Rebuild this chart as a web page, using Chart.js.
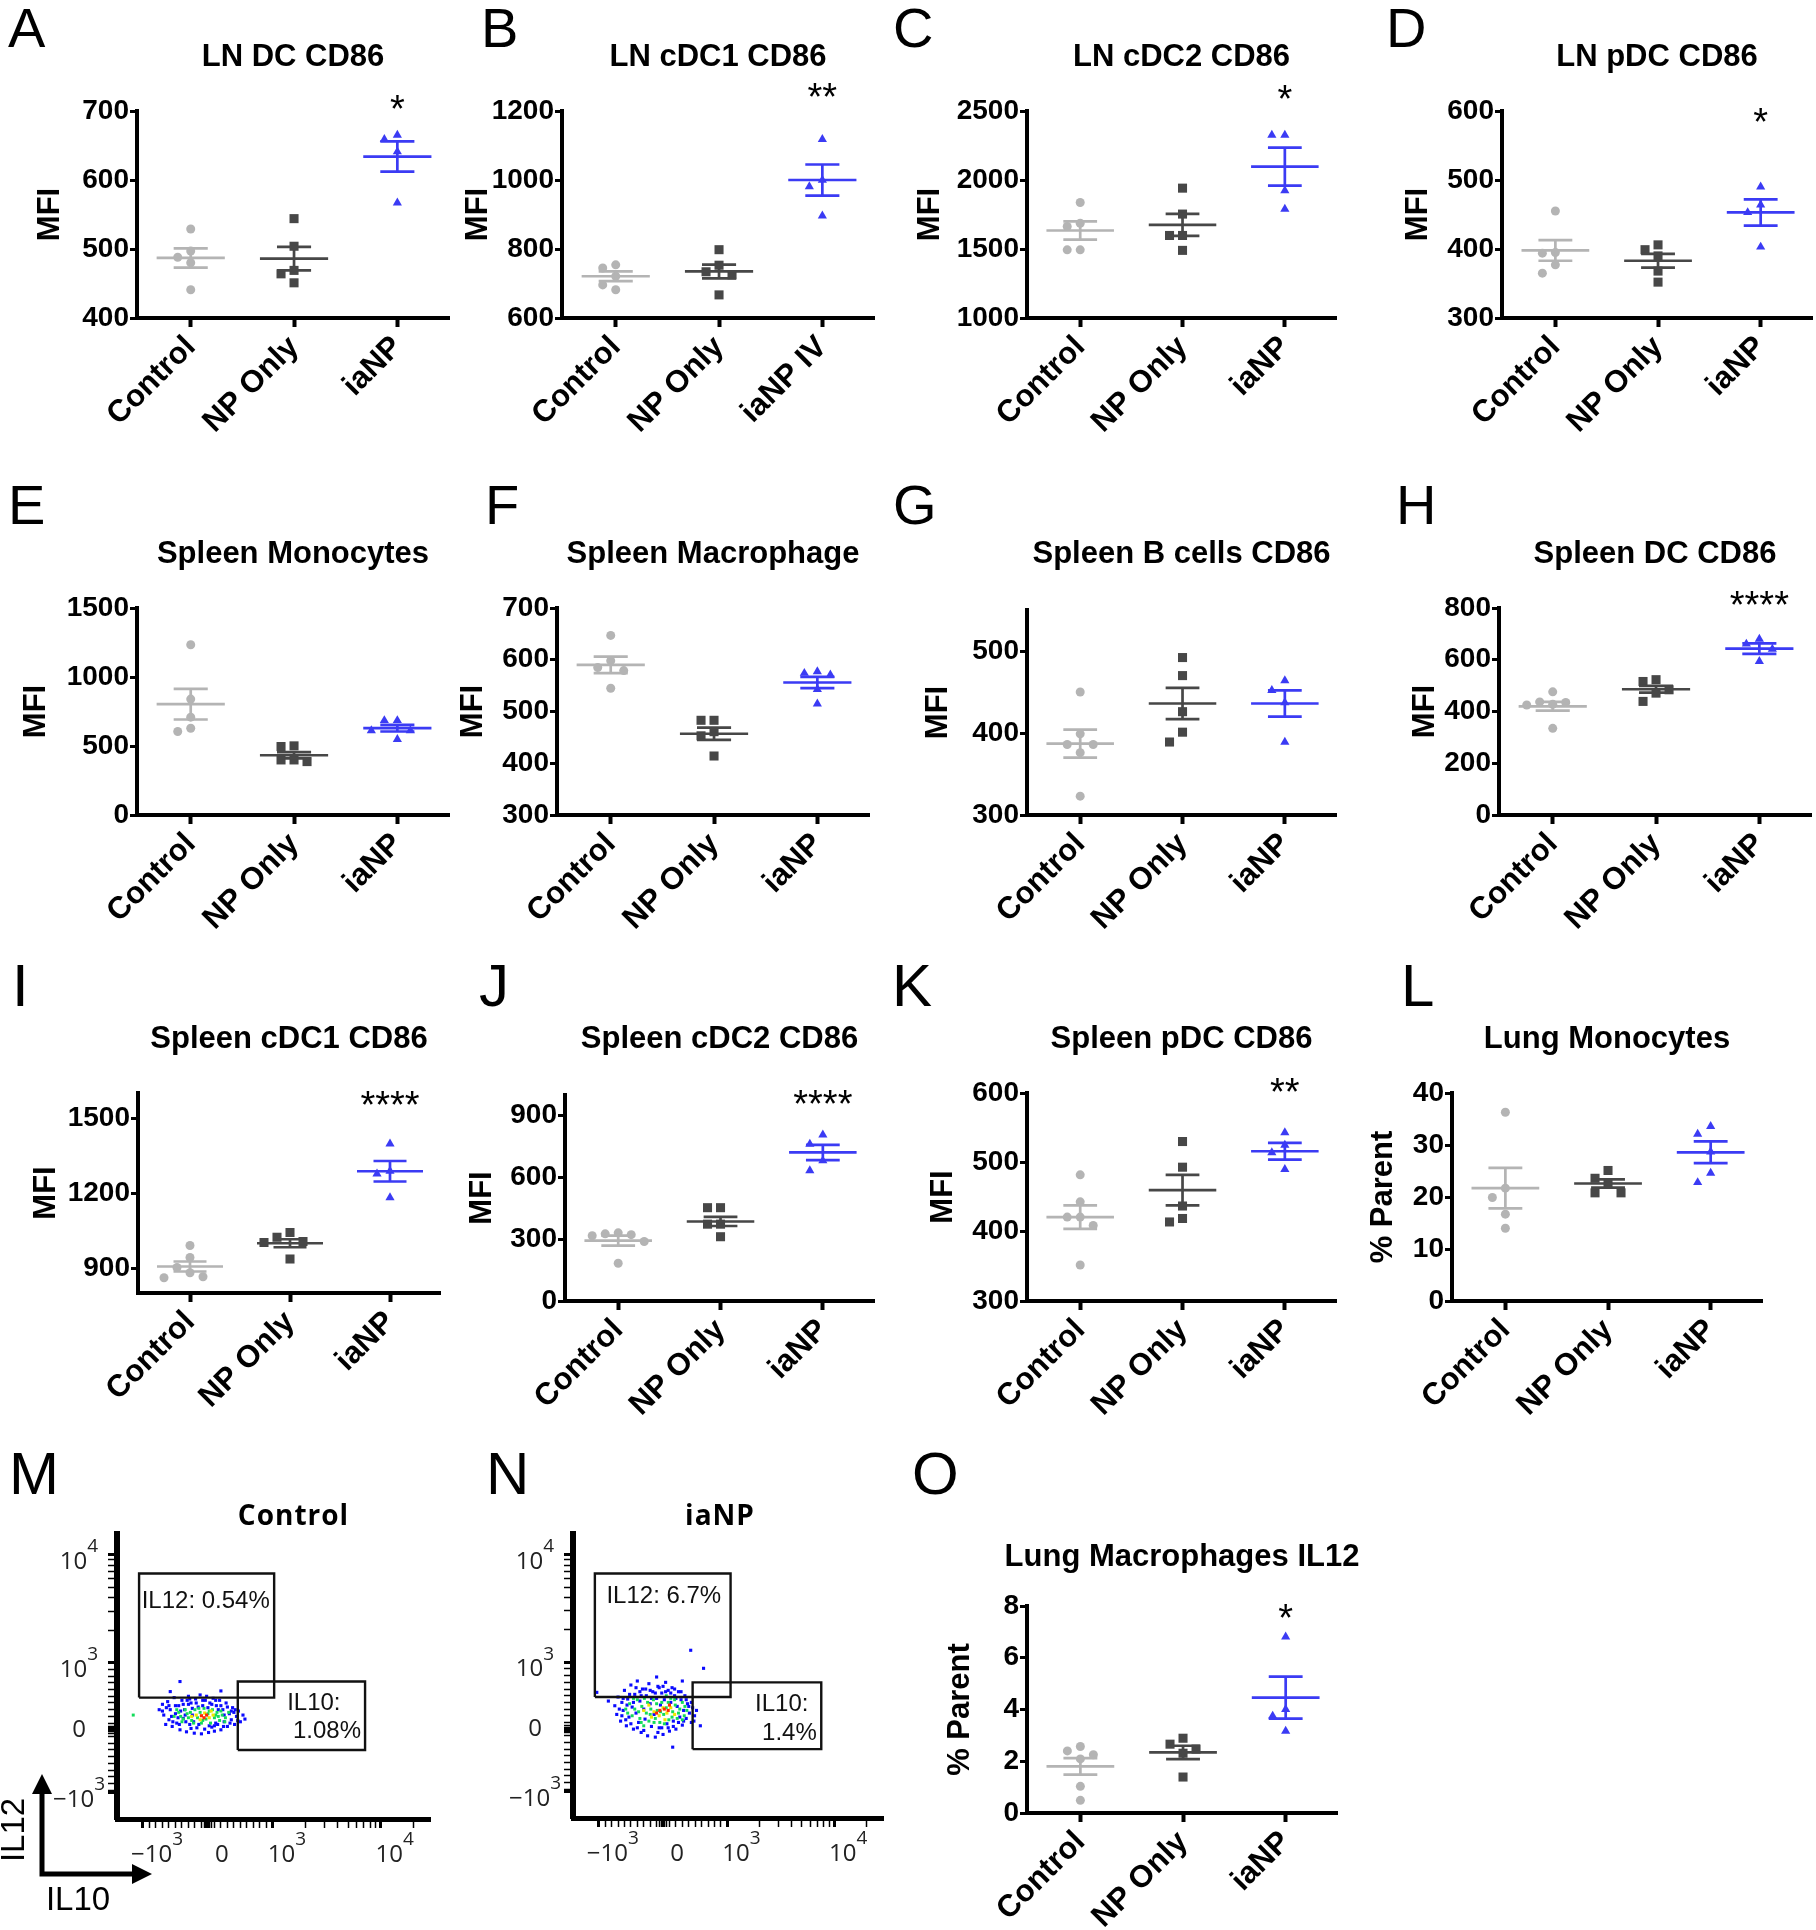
<!DOCTYPE html>
<html>
<head>
<meta charset="utf-8">
<script src="https://cdn.jsdelivr.net/npm/chart.js@4.4.1/dist/chart.umd.min.js"></script>
<style>
  html, body { margin: 0; padding: 0; background: #fff; }
  #page { position: relative; width: 1816px; height: 1930px; overflow: hidden; background: #fff; }
  #page canvas { position: absolute; }
  .letter { position: absolute; font-family: 'Liberation Sans', Arial, sans-serif; line-height: 1; color: #000; }
</style>
</head>
<body>
<div id="page"></div>
<script>
// ---- data ----
const groups = ['Control', 'NP Only', 'iaNP'];
const groupsIV = ['Control', 'NP Only', 'iaNP IV'];

// A  LN DC CD86
const A_control = [529, 497, 488, 480, 441];
const A_npOnly = [544, 504, 469, 464, 451];
const A_iaNP = [665, 659, 641, 567];
const A_mean = [487, 486, 634];
const A_sem = [14, 17, 22];
const A_ticks = [400, 500, 600, 700];

// B  LN cDC1 CD86
const B_control = [754, 745, 721, 696, 682];
const B_npOnly = [798, 753, 734, 725, 667];
const B_iaNP = [1118, 1000, 981, 896];
const B_mean = [721, 735, 1000];
const B_sem = [14, 20, 45];
const B_ticks = [600, 800, 1000, 1200];

// C  LN cDC2 CD86
const C_control = [1837, 1687, 1663, 1494, 1494];
const C_npOnly = [1941, 1753, 1598, 1598, 1490];
const C_iaNP = [2326, 2326, 1924, 1789];
const C_mean = [1634, 1675, 2097];
const C_sem = [66, 80, 138];
const C_ticks = [1000, 1500, 2000, 2500];

// D  LN pDC CD86
const D_control = [455, 395, 394, 377, 365];
const D_npOnly = [406, 399, 390, 368, 352];
const D_iaNP = [490, 464, 453, 403];
const D_mean = [398, 383, 453];
const D_sem = [15, 10, 19];
const D_ticks = [300, 400, 500, 600];

// E  Spleen Monocytes
const E_control = [1234, 840, 709, 629, 605];
const E_npOnly = [501, 496, 399, 399, 387];
const E_iaNP = [685, 685, 612, 612, 549];
const E_mean = [803, 433, 629];
const E_sem = [111, 22, 24];
const E_ticks = [0, 500, 1000, 1500];

// F  Spleen Macrophage
const F_control = [647, 598, 585, 579, 545];
const F_npOnly = [483, 483, 461, 453, 414];
const F_iaNP = [577, 574, 571, 543, 515];
const F_mean = [590, 457, 556];
const F_sem = [16, 12, 11];
const F_ticks = [300, 400, 500, 600, 700];

// G  Spleen B cells CD86
const G_control = [450, 399, 386, 386, 376, 323];
const G_npOnly = [492, 470, 426, 401, 389];
const G_iaNP = [464, 452, 437, 389];
const G_mean = [387, 436, 436];
const G_sem = [17, 19, 16];
const G_ticks = [300, 400, 500];

// H  Spleen DC CD86
const H_control = [476, 437, 435, 428, 425, 335];
const H_npOnly = [523, 516, 484, 471, 439];
const H_iaNP = [680, 661, 641, 594];
const H_mean = [420, 486, 643];
const H_sem = [17, 13, 20];
const H_ticks = [0, 200, 400, 600, 800];

// I  Spleen cDC1 CD86
const I_control = [990, 942, 902, 881, 865, 861];
const I_npOnly = [1042, 1023, 1006, 1002, 936];
const I_iaNP = [1397, 1288, 1277, 1182];
const I_mean = [906, 999, 1287];
const I_sem = [20, 16, 41];
const I_ticks = [900, 1200, 1500];

// J  Spleen cDC2 CD86
const J_control = [331, 326, 322, 317, 289, 183];
const J_npOnly = [453, 453, 373, 373, 312];
const J_iaNP = [807, 762, 681, 633];
const J_mean = [293, 386, 721];
const J_sem = [24, 22, 37];
const J_ticks = [0, 300, 600, 900];

// K  Spleen pDC CD86
const K_control = [482, 443, 421, 421, 409, 352];
const K_npOnly = [530, 493, 437, 419, 414];
const K_iaNP = [543, 525, 514, 490];
const K_mean = [421, 460, 516];
const K_sem = [17, 22, 12];
const K_ticks = [300, 400, 500, 600];

// L  Lung Monocytes (% parent)
const L_control = [36.3, 21.7, 19.9, 16.7, 14.0];
const L_npOnly = [25.1, 23.6, 22.6, 20.8, 20.8];
const L_iaNP = [33.6, 32.1, 28.7, 24.6, 22.8];
const L_mean = [21.7, 22.6, 28.6];
const L_sem = [3.9, 0.8, 2.1];
const L_ticks = [0, 10, 20, 30, 40];

// O  Lung Macrophages IL12 (% parent)
const O_control = [2.57, 2.40, 2.25, 2.09, 1.03, 0.49];
const O_npOnly = [2.89, 2.66, 2.47, 2.31, 1.39];
const O_iaNP = [6.81, 4.01, 3.75, 3.17];
const O_mean = [1.80, 2.34, 4.46];
const O_sem = [0.32, 0.26, 0.81];
const O_ticks = [0, 2, 4, 6, 8];

// M / N flow plots, biexponential display units (0 = 0, 1 = 10^3)
const flowTickLabels = [['\u221210', '3'], ['0', ''], ['10', '3'], ['10', '4']];
const flowTicksX = [-1, 0, 1, 2.66];
const flowTicksY = [-0.94, 0, 1, 2.61];

const M_gateIL12 = [-1.06, 1.02, 0.48, 2.33];
const M_gateIL10 = [0.46, 2.42, -0.30, 0.72];
const N_gateIL12 = [-1.06, 1.05, 0.48, 2.33];
const N_gateIL10 = [0.46, 2.46, -0.30, 0.70];

const M_blue = [[-0.75,0.30],[-0.70,0.38],[-0.68,0.22],[-0.62,0.42],[-0.60,0.15],[-0.58,0.30],[-0.55,0.05],[-0.52,0.48],
  [-0.50,0.24],[-0.48,0.10],[-0.45,0.36],[-0.43,0.00],[-0.40,0.44],[-0.38,0.17],[-0.36,0.30],[-0.33,-0.03],[-0.30,0.50],
  [-0.28,0.08],[-0.26,0.40],[-0.24,0.22],[-0.21,-0.05],[-0.19,0.46],[-0.17,0.03],[-0.15,0.34],[-0.12,0.52],[-0.10,-0.06],
  [-0.08,0.44],[-0.05,0.01],[-0.02,0.50],[0.01,-0.04],[0.03,0.40],[0.06,0.04],[0.08,0.47],[0.10,-0.02],[0.13,0.36],
  [0.15,0.08],[0.18,0.44],[0.20,0.00],[0.23,0.30],[0.25,0.12],[0.28,0.40],[0.30,0.05],[0.33,0.24],[0.36,0.15],[0.38,0.33],
  [0.41,0.08],[0.44,0.20],[0.47,0.28],[0.50,0.12],[0.54,0.22],[0.57,0.16],[-0.43,0.72],[-0.58,0.57],[0.20,0.58],[-0.65,0.08],
  [-0.35,0.22],[0.00,0.33],[0.25,0.22],[-0.22,0.12],[-0.46,0.18],[0.12,0.10],[-0.30,0.38],[0.40,0.26],
  [-0.70,0.28],[-0.64,0.33],[-0.56,0.20],[-0.50,0.36],[-0.44,0.08],[-0.42,0.28],[-0.34,0.12],[-0.32,0.44],[-0.26,0.02],
  [-0.24,0.32],[-0.18,0.40],[-0.14,0.08],[-0.08,0.36],[-0.04,0.44],[0.02,0.06],[0.06,0.38],[0.12,0.44],[0.16,0.30],
  [0.20,0.36],[0.24,0.05],[0.30,0.34],[0.34,0.10],[0.42,0.30],[0.46,0.14],[-0.60,0.36],[-0.54,0.12],[-0.38,0.38],
  [-0.28,0.46],[0.10,0.06],[0.36,0.28]];
const M_green = [[-0.52,0.20],[-0.45,0.26],[-0.40,0.12],[-0.35,0.30],[-0.30,0.18],[-0.27,0.26],[-0.22,0.10],[-0.20,0.30],
  [-0.16,0.18],[-0.12,0.26],[-0.10,0.10],[-0.06,0.32],[-0.03,0.16],[0.00,0.24],[0.04,0.10],[0.07,0.30],[0.10,0.18],
  [0.14,0.26],[0.18,0.14],[0.22,0.22],[0.27,0.18],[0.32,0.26],[-1.15,0.22],
  [-0.48,0.30],[-0.42,0.20],[-0.32,0.24],[-0.25,0.14],[-0.14,0.32],[-0.08,0.14],[0.02,0.28],[0.12,0.22],[0.20,0.28],
  [0.26,0.12],[-0.38,0.16],[0.16,0.20]];
const M_yellow = [[-0.18,0.22],[-0.12,0.15],[-0.05,0.25],[0.02,0.18],[0.08,0.22],[-0.25,0.20],[0.05,0.28]];
const M_red = [[-0.10,0.21],[-0.06,0.18],[-0.02,0.22]];

const N_blue = [[-0.75,0.35],[-0.72,0.22],[-0.70,0.48],[-0.66,0.12],[-0.64,0.40],[-0.62,0.28],[-0.60,0.58],[-0.57,0.05],
  [-0.55,0.45],[-0.53,0.18],[-0.50,0.66],[-0.48,0.33],[-0.46,0.00],[-0.44,0.52],[-0.42,0.24],[-0.40,0.72],[-0.38,0.10],
  [-0.36,0.42],[-0.34,-0.05],[-0.32,0.60],[-0.30,0.30],[-0.28,0.15],[-0.26,0.50],[-0.24,-0.10],[-0.22,0.68],[-0.20,0.38],
  [-0.18,0.04],[-0.16,0.56],[-0.14,0.22],[-0.12,-0.12],[-0.10,0.46],[-0.08,0.64],[-0.06,0.02],[-0.04,0.36],[-0.02,0.54],
  [0.00,-0.08],[0.02,0.44],[0.04,0.70],[0.06,0.08],[0.08,0.58],[0.10,-0.03],[0.12,0.40],[0.14,0.62],[0.16,0.12],[0.18,0.50],
  [0.20,0.00],[0.22,0.34],[0.24,0.56],[0.26,0.18],[0.28,0.44],[0.30,0.06],[0.32,0.28],[0.34,0.50],[0.36,0.16],[0.38,0.38],
  [0.41,0.24],[0.44,0.10],[0.46,0.32],[0.49,0.20],[0.52,0.28],[0.43,1.18],[0.63,0.91],[-1.03,0.55],[0.15,-0.27],[0.58,0.05],
  [-0.85,0.42],[0.30,0.72],[-0.10,0.78],
  [-0.68,0.30],[-0.62,0.46],[-0.58,0.14],[-0.52,0.52],[-0.50,0.08],[-0.46,0.40],[-0.42,0.62],[-0.40,0.02],[-0.34,0.50],
  [-0.30,-0.02],[-0.27,0.60],[-0.20,0.58],[-0.18,0.46],[-0.12,0.54],[-0.06,0.62],[-0.02,0.02],[0.04,0.56],[0.08,0.02],
  [0.12,0.54],[0.16,0.04],[0.20,0.46],[0.24,0.10],[0.28,0.56],[0.32,0.12],[0.36,0.44],[0.40,0.34],[0.44,0.40],[0.48,0.12],
  [-0.64,0.20],[-0.56,0.36],[0.00,0.64],[-0.08,-0.05],[0.18,0.60],[-0.36,0.56]];
const N_green = [[-0.58,0.30],[-0.52,0.38],[-0.48,0.20],[-0.44,0.30],[-0.40,0.44],[-0.36,0.16],[-0.33,0.34],[-0.29,0.46],
  [-0.26,0.24],[-0.22,0.12],[-0.19,0.30],[-0.15,0.44],[-0.12,0.16],[-0.09,0.28],[-0.05,0.10],[-0.02,0.40],[0.01,0.22],
  [0.05,0.32],[0.09,0.14],[0.12,0.46],[0.15,0.26],[0.19,0.36],[0.22,0.16],[0.26,0.30],[0.30,0.40],[0.33,0.20],[0.37,0.28],
  [-0.30,0.05],[0.05,0.50],
  [-0.55,0.24],[-0.46,0.46],[-0.38,0.26],[-0.34,0.10],[-0.24,0.40],[-0.20,0.22],[-0.10,0.38],[-0.04,0.26],[0.08,0.40],
  [0.14,0.18],[0.24,0.24],[0.30,0.14],[0.34,0.34],[0.18,0.44],[-0.14,0.10],[0.02,0.08]];
const N_yellow = [[-0.30,0.28],[-0.22,0.36],[-0.14,0.26],[-0.06,0.20],[0.00,0.32],[0.06,0.24],[0.12,0.32],[0.18,0.22],
  [-0.18,0.18],[0.03,0.14]];
const N_red = [[-0.05,0.28],[0.02,0.30],[0.08,0.28],[0.10,0.36],[-0.10,0.24]];

// ---- styling / layout ----
const FONT = "'Liberation Sans', Arial, sans-serif";
const DOT_COLORS = ['#b4b4b4', '#474747', '#3b3bf4'];
const DOT_STYLES = ['circle', 'rect', 'triangle'];
const DOT_RADII = [4.5, 6.4, 5.3];
const X_MIN = -0.52, X_MAX = 2.5;
const MEAN_HALF = 0.33, CAP_HALF = 0.165;
const SWARM_STEP = 13, SWARM_GAP = 11;
const T_SPACE = 100, X_SPACE = 135, R_SPACE = 45;

const page = document.getElementById('page');

function makeCanvas(left, top, w, h) {
  const c = document.createElement('canvas');
  c.width = w; c.height = h;
  c.style.left = left + 'px'; c.style.top = top + 'px';
  c.style.width = w + 'px'; c.style.height = h + 'px';
  page.appendChild(c);
  return c;
}

function addLetter(ch, left, top, size) {
  const d = document.createElement('div');
  d.className = 'letter';
  d.textContent = ch;
  d.style.left = left + 'px'; d.style.top = top + 'px'; d.style.fontSize = size + 'px';
  page.appendChild(d);
}

// spread points sideways where they would overlap (like a beeswarm)
function swarm(vals, pxPerUnit, catPx) {
  const placed = [];
  return vals.map(v => {
    const py = v * pxPerUnit;
    for (let k = 0; k < 15; k++) {
      const px = (k % 2 ? -1 : 1) * Math.ceil(k / 2) * SWARM_STEP;
      if (placed.every(q => Math.hypot(q[0] - px, q[1] - py) >= SWARM_GAP)) {
        placed.push([px, py]);
        return px / catPx;
      }
    }
    return 0;
  });
}

function meanSemData(g, m, s) {
  const gap = () => ({x: g, y: null});
  return [
    {x: g - MEAN_HALF, y: m}, {x: g + MEAN_HALF, y: m}, gap(),
    {x: g, y: m - s}, {x: g, y: m + s}, gap(),
    {x: g - CAP_HALF, y: m + s}, {x: g + CAP_HALF, y: m + s}, gap(),
    {x: g - CAP_HALF, y: m - s}, {x: g + CAP_HALF, y: m - s}
  ];
}

const decoPlugin = {
  id: 'deco',
  afterDraw(chart, args, o) {
    const {ctx, chartArea: ca, scales} = chart;
    ctx.save();
    ctx.fillStyle = '#000';
    ctx.textAlign = 'center';
    if (o.title) {
      ctx.font = 'bold 31px ' + FONT;
      ctx.textBaseline = 'middle';
      ctx.fillText(o.title, (ca.left + ca.right) / 2, ca.top - o.titleDy);
    }
    if (o.star) {
      ctx.font = '38px ' + FONT;
      ctx.textBaseline = 'alphabetic';
      ctx.fillText(o.star, scales.x.getPixelForValue(2), scales.y.getPixelForValue(o.starAt) + 22);
    }
    ctx.restore();
  }
};

function dotPanel(p) {
  const [ax, xEnd, yTop, yBot] = p.box;
  const plotW = xEnd - ax, plotH = yBot - yTop;
  const wy = p.titleGap + 18;
  const canvas = makeCanvas(ax - wy, yTop - T_SPACE, wy + plotW + R_SPACE, T_SPACE + plotH + X_SPACE);
  const [ymin, ymax] = p.range;
  const pxPerUnit = plotH / (ymax - ymin);
  const catPx = plotW / (X_MAX - X_MIN);

  const datasets = [];
  p.vals.forEach((vals, g) => {
    datasets.push({
      data: meanSemData(g, p.mean[g], p.sem[g]),
      showLine: true, spanGaps: false, pointRadius: 0,
      borderColor: DOT_COLORS[g], borderWidth: 2.7
    });
  });
  p.vals.forEach((vals, g) => {
    const offs = swarm(vals, pxPerUnit, catPx);
    datasets.push({
      data: vals.map((v, i) => ({x: g + offs[i], y: v})),
      pointStyle: DOT_STYLES[g], pointRadius: DOT_RADII[g],
      backgroundColor: DOT_COLORS[g], borderWidth: 0
    });
  });

  new Chart(canvas, {
    type: 'scatter',
    data: {datasets},
    plugins: [decoPlugin],
    options: {
      responsive: false, animation: false, events: [],
      layout: {padding: {top: T_SPACE, right: R_SPACE, left: 0, bottom: 0}},
      plugins: {
        legend: {display: false}, tooltip: {enabled: false},
        deco: {title: p.title, titleDy: p.titleDy || 54, star: p.star, starAt: p.starAt}
      },
      scales: {
        x: {
          type: 'linear', min: X_MIN, max: X_MAX,
          afterBuildTicks: s => { s.ticks = p.cats.map((c, i) => ({value: i})); },
          afterFit: s => { s.height = X_SPACE; s.paddingLeft = 0; s.paddingRight = 0; },
          ticks: {
            callback: v => p.cats[v], minRotation: 45, maxRotation: 45, autoSkip: false, padding: 2,
            color: '#000', font: {family: FONT, size: 31, weight: 'bold'}
          },
          grid: {drawOnChartArea: false, drawTicks: true, tickLength: 9, tickWidth: 4, tickColor: '#000'},
          border: {display: true, color: '#000', width: 4}
        },
        y: {
          type: 'linear', min: ymin, max: ymax,
          afterBuildTicks: s => { s.ticks = p.ticks.map(v => ({value: v})); },
          afterFit: s => { s.width = wy; s.paddingTop = 0; s.paddingBottom = 0; },
          ticks: {callback: v => String(v), padding: 1, color: '#000', font: {family: FONT, size: 28, weight: 'bold'}},
          grid: {drawOnChartArea: false, drawTicks: true, tickLength: 7, tickWidth: 3, tickColor: '#000'},
          border: {display: true, color: '#000', width: 4},
          title: {display: true, text: p.yTitle || 'MFI', color: '#000', padding: 0,
                  font: {family: FONT, size: 31, weight: 'bold'}}
        }
      }
    }
  });
}

const panels = [
  {title: 'LN DC CD86', cats: groups, vals: [A_control, A_npOnly, A_iaNP], mean: A_mean, sem: A_sem, ticks: A_ticks,
   range: [400, 700], star: '*', starAt: 716, box: [137, 449, 111, 318], titleGap: 87},
  {title: 'LN cDC1 CD86', cats: groupsIV, vals: [B_control, B_npOnly, B_iaNP], mean: B_mean, sem: B_sem, ticks: B_ticks,
   range: [600, 1200], star: '**', starAt: 1268, box: [562, 874, 111, 318], titleGap: 84},
  {title: 'LN cDC2 CD86', cats: groups, vals: [C_control, C_npOnly, C_iaNP], mean: C_mean, sem: C_sem, ticks: C_ticks,
   range: [1000, 2500], star: '*', starAt: 2652, box: [1027, 1336, 111, 318], titleGap: 97},
  {title: 'LN pDC CD86', cats: groups, vals: [D_control, D_npOnly, D_iaNP], mean: D_mean, sem: D_sem, ticks: D_ticks,
   range: [300, 600], star: '*', starAt: 597, box: [1502, 1812, 111, 318], titleGap: 84},
  {title: 'Spleen Monocytes', cats: groups, vals: [E_control, E_npOnly, E_iaNP], mean: E_mean, sem: E_sem, ticks: E_ticks,
   range: [0, 1500], box: [137, 449, 608, 815], titleGap: 101},
  {title: 'Spleen Macrophage', cats: groups, vals: [F_control, F_npOnly, F_iaNP], mean: F_mean, sem: F_sem, ticks: F_ticks,
   range: [300, 700], box: [557, 869, 608, 815], titleGap: 84},
  {title: 'Spleen B cells CD86', cats: groups, vals: [G_control, G_npOnly, G_iaNP], mean: G_mean, sem: G_sem, ticks: G_ticks,
   range: [300, 550], box: [1027, 1336, 610, 815], titleGap: 89, titleDy: 56},
  {title: 'Spleen DC CD86', cats: groups, vals: [H_control, H_npOnly, H_iaNP], mean: H_mean, sem: H_sem, ticks: H_ticks,
   range: [0, 800], star: '****', starAt: 848, box: [1499, 1811, 608, 815], titleGap: 74},
  {title: 'Spleen cDC1 CD86', cats: groups, vals: [I_control, I_npOnly, I_iaNP], mean: I_mean, sem: I_sem, ticks: I_ticks,
   range: [800, 1600], star: '****', starAt: 1589, box: [138, 440, 1093, 1293], titleGap: 92},
  {title: 'Spleen cDC2 CD86', cats: groups, vals: [J_control, J_npOnly, J_iaNP], mean: J_mean, sem: J_sem, ticks: J_ticks,
   range: [0, 1000], star: '****', starAt: 1000, box: [565, 874, 1095, 1301], titleGap: 83, titleDy: 56},
  {title: 'Spleen pDC CD86', cats: groups, vals: [K_control, K_npOnly, K_iaNP], mean: K_mean, sem: K_sem, ticks: K_ticks,
   range: [300, 600], star: '**', starAt: 614, box: [1027, 1336, 1093, 1301], titleGap: 84},
  {title: 'Lung Monocytes', cats: groups, vals: [L_control, L_npOnly, L_iaNP], mean: L_mean, sem: L_sem, ticks: L_ticks,
   range: [0, 40], box: [1452, 1762, 1093, 1301], titleGap: 69, yTitle: '% Parent'},
  {title: 'Lung Macrophages IL12', cats: groups, vals: [O_control, O_npOnly, O_iaNP], mean: O_mean, sem: O_sem, ticks: O_ticks,
   range: [0, 8], star: '*', starAt: 7.9, box: [1027, 1337, 1606, 1813], titleGap: 67, titleDy: 49, yTitle: '% Parent'}
];
panels.forEach(dotPanel);

// ---- flow cytometry panels ----
const FLOW_X = [-1.4, 3.42], FLOW_Y = [-1.33, 2.92];
const FLOW_DEC_X = 1.66, FLOW_DEC_Y = 1.61;
const FLOW_FONT = "'Open Sans', 'Liberation Sans', sans-serif";

function flowTicks(major, decade, top) {
  const minor = [];
  for (let k = -9; k <= 9; k++) if (k) minor.push(k / 10);
  [-0.05, -0.03, 0.03, 0.05].forEach(v => minor.push(v));
  for (let k = 2; k <= 9; k++) {
    minor.push(1 + decade * Math.log10(k));
    minor.push(1 + decade + decade * Math.log10(k));
  }
  return major.map(v => ({value: v, big: true}))
    .concat(minor.filter(v => v < top).map(v => ({value: v})))
    .sort((a, b) => a.value - b.value);
}

function gateRect(g) {
  const [x0, x1, y0, y1] = g;
  return [{x: x0, y: y0}, {x: x1, y: y0}, {x: x1, y: y1}, {x: x0, y: y1}, {x: x0, y: y0}];
}

const flowPlugin = {
  id: 'flow',
  afterDraw(chart, args, o) {
    const {ctx, chartArea: ca, scales: {x, y}} = chart;
    ctx.save();
    ctx.fillStyle = '#222';
    ctx.textAlign = 'left';
    ctx.textBaseline = 'middle';
    const drawPow = (lab, cx, cy, vertical) => {
      const [base, exp] = lab;
      ctx.font = '24px ' + FLOW_FONT;
      const bw = ctx.measureText(base).width;
      ctx.font = '19px ' + FLOW_FONT;
      const ew = exp ? ctx.measureText(exp).width : 0;
      const left = cx - (bw + ew) / 2;
      const by = vertical ? (exp ? cy + 7 : cy) : cy;
      ctx.font = '24px ' + FLOW_FONT;
      ctx.fillText(base, left, by);
      if (exp) {
        ctx.font = '19px ' + FLOW_FONT;
        ctx.fillText(exp, left + bw, by - 15);
      }
    };
    flowTicksY.forEach((v, i) => drawPow(flowTickLabels[i], ca.left - 38, y.getPixelForValue(v), true));
    flowTicksX.forEach((v, i) => drawPow(flowTickLabels[i], x.getPixelForValue(v) + 14, ca.bottom + 36, false));

    ctx.fillStyle = '#111';
    ctx.font = '24px ' + FONT;
    o.gateText.forEach(t => ctx.fillText(t[0], x.getPixelForValue(t[1]), y.getPixelForValue(t[2])));

    ctx.fillStyle = '#000';
    ctx.textAlign = 'center';
    ctx.font = 'bold 28px ' + FLOW_FONT;
    ctx.letterSpacing = '1px';
    ctx.fillText(o.title, (ca.left + ca.right) / 2 + o.titleDx, ca.top - 17);
    ctx.letterSpacing = '0px';

    if (o.arrows) {
      const ox = ca.left - 75, oy = ca.bottom + 55;
      ctx.strokeStyle = '#000';
      ctx.lineWidth = 5;
      ctx.beginPath();
      ctx.moveTo(ox, oy - 84); ctx.lineTo(ox, oy); ctx.lineTo(ox + 94, oy);
      ctx.stroke();
      ctx.beginPath();
      ctx.moveTo(ox, oy - 100); ctx.lineTo(ox - 10, oy - 80); ctx.lineTo(ox + 10, oy - 80); ctx.closePath();
      ctx.moveTo(ox + 110, oy); ctx.lineTo(ox + 90, oy - 10); ctx.lineTo(ox + 90, oy + 10); ctx.closePath();
      ctx.fill();
      ctx.font = '33px ' + FONT;
      ctx.fillText('IL10', ca.left - 39, ca.bottom + 82);
      ctx.save();
      ctx.translate(ca.left - 102, ca.bottom + 11);
      ctx.rotate(-Math.PI / 2);
      ctx.fillText('IL12', 0, 0);
      ctx.restore();
    }
    ctx.restore();
  }
};

function flowPanel(f) {
  const [ax, xEnd, yTop, yBot] = f.box;
  const wy = 117, top = 40, xh = 1930 - yBot;
  const canvas = makeCanvas(ax - wy, yTop - top, wy + (xEnd - ax) + 20, top + (yBot - yTop) + xh);
  const pts = a => a.map(p => ({x: p[0], y: p[1]}));
  const cloud = (a, c, r) => ({data: pts(a), pointStyle: 'rect', pointRadius: r, backgroundColor: c, borderWidth: 0});
  new Chart(canvas, {
    type: 'scatter',
    data: {datasets: [
      {data: gateRect(f.gates[0]), showLine: true, pointRadius: 0, borderColor: '#111', borderWidth: 2.4},
      {data: gateRect(f.gates[1]), showLine: true, pointRadius: 0, borderColor: '#111', borderWidth: 2.4},
      cloud(f.red, '#ff2a00', 2.2), cloud(f.yellow, '#f2e600', 2.2), cloud(f.green, '#12dc5a', 2.1),
      cloud(f.blue, '#0a0aff', 2.2)
    ]},
    plugins: [flowPlugin],
    options: {
      responsive: false, animation: false, events: [],
      layout: {padding: {top: top, right: 20, left: 0, bottom: 0}},
      plugins: {
        legend: {display: false}, tooltip: {enabled: false},
        flow: {title: f.title, titleDx: f.titleDx, gateText: f.gateText, arrows: f.arrows}
      },
      scales: {
        x: {
          type: 'linear', min: FLOW_X[0], max: FLOW_X[1],
          afterBuildTicks: s => { s.ticks = flowTicks(flowTicksX, FLOW_DEC_X, FLOW_X[1]); },
          afterFit: s => { s.height = xh; s.paddingLeft = 0; s.paddingRight = 0; },
          ticks: {display: false},
          grid: {drawOnChartArea: false, drawTicks: true, tickLength: 9, tickColor: '#000',
                 tickWidth: c => (c.tick && c.tick.big ? 3 : 1.5)},
          border: {display: true, color: '#000', width: 5}
        },
        y: {
          type: 'linear', min: FLOW_Y[0], max: FLOW_Y[1],
          afterBuildTicks: s => { s.ticks = flowTicks(flowTicksY, FLOW_DEC_Y, FLOW_Y[1]); },
          afterFit: s => { s.width = wy; s.paddingTop = 0; s.paddingBottom = 0; },
          ticks: {display: false},
          grid: {drawOnChartArea: false, drawTicks: true, tickLength: 9, tickColor: '#000',
                 tickWidth: c => (c.tick && c.tick.big ? 3 : 1.5)},
          border: {display: true, color: '#000', width: 6}
        }
      }
    }
  });
}

flowPanel({title: 'Control', titleDx: 20, box: [117, 430, 1534, 1819], gates: [M_gateIL12, M_gateIL10],
  blue: M_blue, green: M_green, yellow: M_yellow, red: M_red, arrows: true,
  gateText: [['IL12: 0.54%', -1.02, 1.91], ['IL10:', 1.22, 0.40], ['1.08%', 1.31, -0.03]]});
flowPanel({title: 'iaNP', titleDx: -8, box: [573, 883, 1534, 1818], gates: [N_gateIL12, N_gateIL10],
  blue: N_blue, green: N_green, yellow: N_yellow, red: N_red, arrows: false,
  gateText: [['IL12: 6.7%', -0.88, 1.99], ['IL10:', 1.43, 0.37], ['1.4%', 1.54, -0.07]]});

// ---- panel letters ----
[['A', 8, 0, 56], ['B', 481, 0, 56], ['C', 893, 0, 56], ['D', 1386, 0, 56],
 ['E', 8, 477, 56], ['F', 485, 477, 56], ['G', 893, 477, 56], ['H', 1396, 477, 56],
 ['I', 12, 956, 60], ['J', 479, 956, 60], ['K', 892, 956, 60], ['L', 1401, 956, 60],
 ['M', 9, 1444, 60], ['N', 486, 1444, 60], ['O', 912, 1444, 60]].forEach(l => addLetter(l[0], l[1], l[2], l[3]));
</script>
</body>
</html>
